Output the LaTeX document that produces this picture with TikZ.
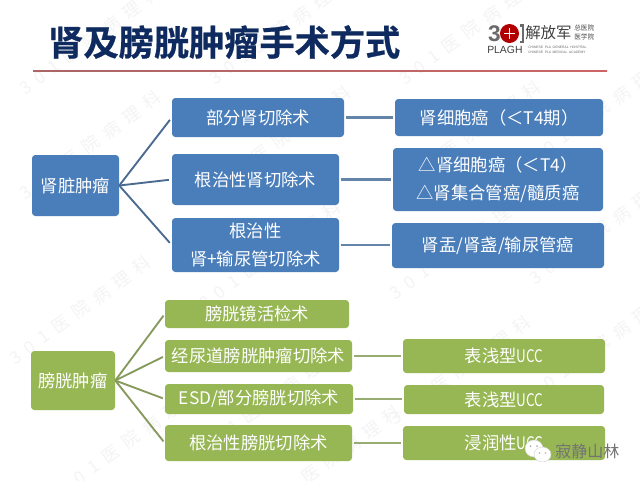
\documentclass[tikz,border=0pt]{standalone}
\usepackage{fontspec}
\setmainfont{Noto Sans CJK SC}
\newfontfamily\titlefont[FakeBold=0.7]{Noto Sans CJK SC Bold}
\newfontfamily\latinfont{Liberation Sans}
\newfontfamily\logoserif{Liberation Serif}
\newfontfamily\wmfont[LetterSpace=45]{Noto Sans CJK SC}
\definecolor{bluebox}{HTML}{4A7EBB}
\definecolor{greenbox}{HTML}{97B654}
\definecolor{bluelink}{HTML}{4A6A90}
\definecolor{bluelinkh}{HTML}{6484AA}
\definecolor{greenlink}{HTML}{869A5C}
\definecolor{greenlinkh}{HTML}{98AB70}
\definecolor{navy}{HTML}{0E2A5E}
\definecolor{wm}{HTML}{F4F4F4}
\definecolor{logogray}{HTML}{6A6A6A}
\tikzset{
  x=0.75pt,y=-0.75pt,
  boxbase/.style={rounded corners=2.5pt,inner sep=0pt,text=white,align=center,font=\fontsize{13}{21}\selectfont},
  bluebx/.style={boxbase,fill=bluebox},
  greenbx/.style={boxbase,fill=greenbox},
  bluelk/.style={draw=bluelink,line width=1.4pt},
  greenlk/.style={draw=greenlink,line width=1.4pt},
  bluehz/.style={draw=bluelinkh,line width=1.9pt,shorten <=1pt,shorten >=1.5pt},
  greenhz/.style={draw=greenlinkh,line width=1.9pt,shorten <=1pt,shorten >=1.5pt},
  wmark/.style={text=wm,rotate=36,font=\wmfont\fontsize{13}{13}\selectfont},
}
\newcommand{\nar}[1]{\scalebox{0.78}[1]{#1}}
\newcommand{\bx}[7]{%
  \pgfmathsetmacro{\bw}{(#5-#3)*0.75}\pgfmathsetmacro{\bh}{(#6-#4)*0.75}
  \node[#1,minimum width=\bw pt,minimum height=\bh pt] (#2) at ({(#3+#5)/2},{(#4+#6)/2}) {#7};}
\begin{document}
\begin{tikzpicture}
\useasboundingbox (0,0) rectangle (640,480);
\fill[white] (0,0) rectangle (640,480);
% watermark
\foreach \px/\py in {90/40,280/30,470/30,90/145,280/140,470/135,600/110,80/310,270/255,460/245,600/230,270/400,460/370,600/345,130/440,330/460}
  \node[wmark] at (\px,\py) {301医院病理科};
% title
\node[text=navy,font=\titlefont\fontsize{26.4}{26.4}\selectfont,anchor=west,inner sep=0pt] (title) at (48,42) {肾及膀胱肿瘤手术方式};
% rule
\fill[left color=black!55!red!60,right color=red!50!gray!80] (33,70.4) rectangle (607,71.6);
% logo
\node[text=logogray,font=\latinfont\bfseries\fontsize{17}{17}\selectfont,inner sep=0pt] (logothree) at (494.5,33.5) {3};
\fill[red!70!black] (509.5,33.5) circle (9.5);
\fill[white] (509,28) rectangle (510,39);
\fill[white] (504,33) rectangle (515,34);
\fill[logogray] (520,24) rectangle (523.5,43);
\fill[white] (520,26.5) rectangle (521.5,40.5);
\node[text=black!75,font=\fontsize{11.6}{11.6}\selectfont,anchor=west,inner sep=0pt] (logoa) at (525,33) {解放军};
\node[text=black!70,font=\fontsize{5}{6.5}\selectfont,anchor=west,inner sep=0pt,align=left] (logob) at (574,32.5) {总医院\\医学院};
\node[text=black!75,font=\latinfont\fontsize{7.8}{8}\selectfont,anchor=west,inner sep=0pt] (logoc) at (487,49.5) {PLAGH};
\node[text=black!60,font=\latinfont\fontsize{2.5}{3.3}\selectfont,anchor=west,inner sep=0pt,align=left] (logod) at (528,50) {CHINESE\enspace PLA\enspace GENERAL\enspace HOSPITAL\\CHINESE\enspace PLA\enspace MEDICAL\enspace ACADEMY};
% blue boxes
\bx{bluebx}{kid}{32}{155}{119}{216}{肾脏肿瘤}
\bx{bluebx}{ba}{172}{98}{344}{137}{部分肾切除术}
\bx{bluebx}{bb}{172}{154}{339}{205}{根治性肾切除术}
\bx{bluebx}{bc}{172}{218}{339}{272}{根治性\\肾+输尿管切除术}
\bx{bluebx}{ra}{395}{99}{603}{136}{肾细胞癌（＜T4期）}
\bx{bluebx}{rb}{393}{148}{603}{211}{△肾细胞癌（＜T4）\\△肾集合管癌/髓质癌}
\bx{bluebx}{rc}{392}{223}{604}{268}{肾盂/肾盏/输尿管癌}
% green boxes
\bx{greenbx}{bla}{31}{351}{115}{410}{膀胱肿瘤}
\bx{greenbx}{ga}{165}{300}{349}{328}{膀胱镜活检术}
\bx{greenbx}{gb}{165}{340}{352}{372}{经尿道膀胱肿瘤切除术}
\bx{greenbx}{gc}{165}{384}{353}{414}{ESD/部分膀胱切除术}
\bx{greenbx}{gd}{165}{425}{352}{461}{根治性膀胱切除术}
\bx{greenbx}{ua}{403}{339}{605}{373}{表浅型\nar{UCC}}
\bx{greenbx}{ub}{404}{385}{604}{414}{表浅型\nar{UCC}}
\bx{greenbx}{uc}{403}{426}{605}{460}{浸润性\nar{UCC}}
% connectors
\foreach \t in {ba,bb,bc} \draw[bluelk,shorten >=2.2pt] (kid.east) -- (\t.west);
\draw[bluehz] (ba.east) -- (ba.east -| ra.west);
\draw[bluehz] (bb.east) -- (bb.east -| rb.west);
\draw[bluehz] (bc.east) -- (bc.east -| rc.west);
\foreach \t in {ga,gb,gc,gd} \draw[greenlk,shorten >=1.5pt] (bla.east) -- (\t.west);
\draw[greenhz] (gb.east) -- (gb.east -| ua.west);
\draw[greenhz] (gc.east) -- (gc.east -| ub.west);
\draw[greenhz] (gd.east) -- (gd.east -| uc.west);
% wechat mark
\fill[white,draw=gray!35,line width=0.3pt] (534,448.5) ellipse (9 and 8.5);
\fill[white,draw=gray!35,line width=0.3pt] (542.5,454.5) ellipse (8.5 and 7.5);
\fill[gray!60] (530.5,446) circle (1);
\fill[gray!60] (537,446) circle (1);
\fill[gray!60] (539.5,453) circle (0.9);
\fill[gray!60] (545.5,453) circle (0.9);
\node[text=black!55,font=\fontsize{12}{12}\selectfont,anchor=west,inner sep=0pt] (wxname) at (555,451) {寂静山林};
\end{tikzpicture}
\end{document}
